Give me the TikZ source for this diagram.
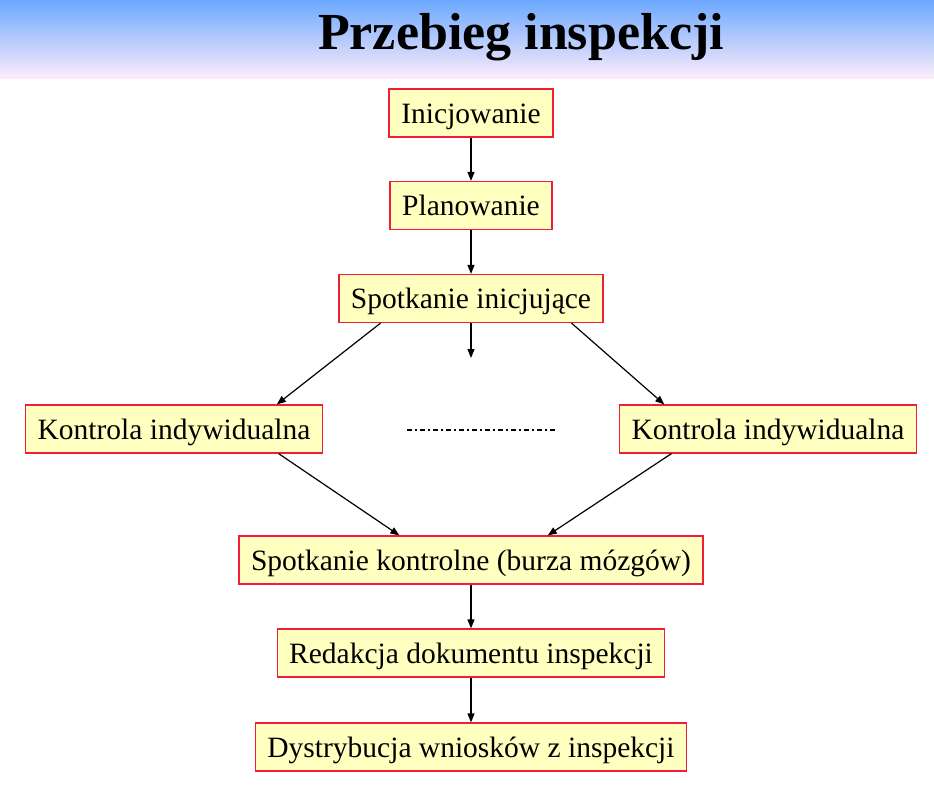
\documentclass[tikz,border=0pt]{standalone}
\usepackage{fontspec}
\setmainfont{Liberation Serif}
\usetikzlibrary{arrows.meta,calc}
\definecolor{boxfill}{RGB}{255,255,192}
\definecolor{boxline}{RGB}{240,30,60}
\definecolor{headtop}{RGB}{108,168,255}
\definecolor{headbot}{RGB}{252,236,250}
\tikzset{
  stepbox/.style={draw=boxline, line width=1.2pt, fill=boxfill, minimum height=48pt,
    inner xsep=12pt, inner ysep=0pt, font=\fontsize{29.5}{34}\selectfont, text height=24pt, text depth=4pt},
  conn/.style={line width=1.2pt, -{Triangle[length=9pt,width=7pt]}},
}
\begin{document}
\begin{tikzpicture}[x=1pt,y=-1pt]
\useasboundingbox (0,0) rectangle (934,795);
\shade[top color=headtop, bottom color=headbot] (0,0) rectangle (934,78);
\node[anchor=base, font=\bfseries\fontsize{52}{60}\selectfont] (title) at (521,49) {Przebieg inspekcji};

\node[stepbox, minimum width=164pt] (ini) at (471,113) {Inicjowanie};
\node[stepbox, minimum width=162pt] (pla) at (471,205.5) {Planowanie};
\node[stepbox, minimum width=264pt] (spi) at (471,298.5) {Spotkanie inicjujące};
\node[stepbox, minimum width=296pt] (kl) at (174,429) {Kontrola indywidualna};
\node[stepbox, minimum width=296pt] (kr) at (768,429) {Kontrola indywidualna};
\node[stepbox, minimum width=463pt] (spk) at (471,560) {Spotkanie kontrolne (burza mózgów)};
\node[stepbox, minimum width=387pt] (red) at (471,653) {Redakcja dokumentu inspekcji};
\node[stepbox, minimum width=430pt] (dys) at (471,747) {Dystrybucja wniosków z inspekcji};

\coordinate (mid) at (471,358);
\coordinate (dl) at (407,430);
\coordinate (dr) at (557,430);

\draw[conn] (ini) -- (pla);
\draw[conn] (pla) -- (spi);
\draw[conn] (spi.south) -- (mid);
\draw[conn] ($(spi.south west)!0.159!(spi.south east)$) -- ($(kl.north west)!0.845!(kl.north east)$);
\draw[conn] ($(spi.south west)!0.879!(spi.south east)$) -- ($(kr.north west)!0.152!(kr.north east)$);
\draw[conn] ($(kl.south west)!0.851!(kl.south east)$) -- ($(spk.north west)!0.346!(spk.north east)$);
\draw[conn] ($(kr.south west)!0.176!(kr.south east)$) -- ($(spk.north west)!0.665!(spk.north east)$);
\draw[conn] (spk) -- (red);
\draw[conn] (red) -- (dys);
\draw[line width=1.1pt, dash pattern=on 5pt off 3pt on 2pt off 3pt] (dl) -- (dr);
\end{tikzpicture}
\end{document}
